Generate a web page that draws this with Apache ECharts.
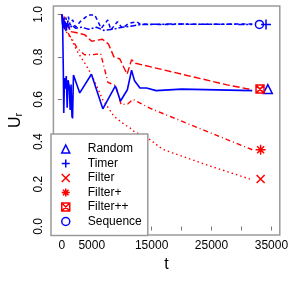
<!DOCTYPE html>
<html>
<head>
<meta charset="utf-8">
<script src="https://cdn.jsdelivr.net/npm/echarts@6/dist/echarts.min.js"></script>
<style>
html,body{margin:0;padding:0;background:#fff;}
#c{width:291px;height:283px;}
</style>
</head>
<body>
<div id="c"></div>
<script>
// ---- data ----
var randomT = [0, 120, 250, 330, 450, 600, 750, 900, 1050, 1250, 1400, 1550, 1700, 1800, 1950, 3000, 4950, 6850, 8950, 9800, 10950, 11650, 12150, 13050, 14150, 15750, 20000, 31800];
var randomU = [1.0, 0.99, 0.75, 0.535, 0.70, 0.65, 0.71, 0.56, 0.69, 0.66, 0.55, 0.67, 0.52, 0.51, 0.715, 0.63, 0.718, 0.555, 0.663, 0.592, 0.645, 0.737, 0.687, 0.653, 0.653, 0.641, 0.648, 0.641];

var timerT = [0, 150, 300, 500, 700, 900, 1100, 1400, 1800, 2300, 3070, 4430, 5500, 6590, 7670, 8200, 9290, 10100, 11170, 12520, 13060, 16000, 31800];
var timerU = [1.0, 0.95, 0.99, 0.93, 0.985, 0.94, 0.99, 0.95, 0.975, 0.94, 0.966, 0.998, 0.998, 0.935, 0.974, 0.927, 0.966, 0.935, 0.958, 0.966, 0.955, 0.953, 0.955];

var sequenceT = [0, 200, 400, 700, 1000, 1300, 1700, 2300, 3300, 4500, 5800, 7000, 8500, 10000, 11500, 13000, 18000, 31800];
var sequenceU = [1.0, 0.93, 0.98, 0.92, 0.97, 0.93, 0.95, 0.935, 0.94, 0.93, 0.94, 0.925, 0.93, 0.94, 0.945, 0.952, 0.955, 0.953];

var filterPPT = [0, 200, 450, 700, 1000, 1400, 2300, 3800, 5000, 6800, 7800, 8700, 9700, 10900, 11650, 12300, 14700, 27600, 31800];
var filterPPU = [1.0, 0.96, 0.99, 0.93, 0.95, 0.92, 0.915, 0.905, 0.874, 0.883, 0.86, 0.80, 0.79, 0.718, 0.787, 0.77, 0.754, 0.668, 0.645];

var filterPT = [0, 200, 500, 900, 1300, 1800, 2600, 3800, 5000, 6500, 7700, 9000, 9900, 11000, 11900, 14700, 27600, 31800];
var filterPU = [1.0, 0.95, 0.97, 0.92, 0.90, 0.88, 0.84, 0.81, 0.81, 0.815, 0.68, 0.665, 0.575, 0.578, 0.60, 0.558, 0.41, 0.362];

var filterT = [0, 200, 500, 900, 1500, 2500, 3500, 4400, 5400, 6800, 8700, 10500, 11400, 12200, 14000, 16800, 18500, 24900, 31400];
var filterU = [1.0, 0.96, 0.94, 0.91, 0.89, 0.83, 0.785, 0.745, 0.69, 0.60, 0.52, 0.48, 0.465, 0.445, 0.425, 0.365, 0.347, 0.284, 0.224];

// end markers
var markerNames = ['Random', 'Timer', 'Filter', 'Filter+', 'Filter++', 'Sequence'];
var markerT = [34400, 34100, 33200, 33200, 33100, 33000];
var markerU = [0.648, 0.953, 0.224, 0.362, 0.648, 0.953];

var xTickValues = [0, 5000, 10000, 15000, 20000, 25000, 30000, 35000];
var xLabelValues = [0, 5000, 15000, 25000, 35000];
var yTickValues = [0, 0.2, 0.4, 0.6, 0.8, 1.0];

// ---- styling ----
var BLUE = '#0000ff', RED = '#ff0000';
var SYM = {
  'Random': 'triangle',
  'Timer': 'path://M5 0L5 10M0 5L10 5',
  'Filter': 'path://M0 0L10 10M10 0L0 10',
  'Filter+': 'path://M5 0L5 10M0 5L10 5M1.5 1.5L8.5 8.5M8.5 1.5L1.5 8.5',
  'Filter++': 'path://M0 0L10 0L10 10L0 10ZM0 0L10 10M10 0L0 10',
  'Sequence': 'circle'
};
var COL = {'Random': BLUE, 'Timer': BLUE, 'Filter': RED, 'Filter+': RED, 'Filter++': RED, 'Sequence': BLUE};
var SIZE = {'Random': 9, 'Timer': 10, 'Filter': 8, 'Filter+': 10, 'Filter++': 8, 'Sequence': 8};
var LSIZE = {'Random': 8, 'Timer': 9, 'Filter': 7, 'Filter+': 8, 'Filter++': 7, 'Sequence': 7};

function zip(a, b) { return a.map(function (v, i) { return [v, b[i]]; }); }

function lineSeries(name, T, U, color, dash, width) {
  return {
    name: name, type: 'line', data: zip(T, U), showSymbol: false, symbol: 'none',
    animation: false, silent: true, z: 2,
    lineStyle: { color: color, width: width, type: dash }
  };
}

var series = [
  lineSeries('Filter', filterT, filterU, RED, [1.5, 3], 1.4),
  lineSeries('Filter+', filterPT, filterPU, RED, [1, 3, 5, 3], 1.4),
  lineSeries('Filter++', filterPPT, filterPPU, RED, [7, 3], 1.4),
  lineSeries('Sequence', sequenceT, sequenceU, BLUE, [2, 2, 6, 2], 1.5),
  lineSeries('Timer', timerT, timerU, BLUE, [4, 3], 1.5),
  lineSeries('Random', randomT, randomU, BLUE, 'solid', 1.6)
];

markerNames.forEach(function (n, i) {
  series.push({
    name: n, type: 'scatter', animation: false, silent: true, z: 5,
    symbol: SYM[n], symbolSize: SIZE[n],
    data: [[markerT[i], markerU[i]]],
    itemStyle: { color: 'transparent', borderColor: COL[n], borderWidth: 1.5, opacity: 1 }
  });
});

var legendData = markerNames.map(function (n) {
  return {
    name: n, icon: SYM[n],
    itemStyle: { color: 'transparent', borderColor: COL[n], borderWidth: 1.5 }
  };
});

var chart = echarts.init(document.getElementById('c'), null, { renderer: 'canvas' });
chart.setOption({
  backgroundColor: '#ffffff',
  animation: false,
  textStyle: { fontFamily: 'Liberation Sans' },
  grid: { left: 51, top: 6, right: 8, bottom: 48, show: true, borderColor: '#9a9a9a', borderWidth: 1.5, backgroundColor: 'transparent' },
  legend: {
    orient: 'vertical', left: 51, top: 134,
    padding: [8, 6, 7, 10],
    itemWidth: 8, itemHeight: 8, itemGap: 0.5,
    backgroundColor: '#ffffff', borderColor: '#9a9a9a', borderWidth: 1.5, borderRadius: 0,
    selectedMode: false,
    textStyle: { fontSize: 12, color: '#000', fontFamily: 'Liberation Sans', lineHeight: 14, padding: [0, 0, 0, 13] },
    data: legendData,
    z: 10
  },
  xAxis: {
    type: 'value', min: -1400, max: 36400,
    name: 't', nameLocation: 'middle', nameGap: 14,
    nameTextStyle: { fontSize: 16, color: '#000', fontFamily: 'Liberation Sans' },
    splitLine: { show: false },
    axisLine: { show: false },
    axisTick: { show: true, length: 4, inside: false, lineStyle: { color: '#777', width: 1 }, customValues: xTickValues },
    axisLabel: { customValues: xLabelValues, margin: 5, fontSize: 12, color: '#000', fontFamily: 'Liberation Sans',
      formatter: function (v) { return String(v); } }
  },
  yAxis: {
    type: 'value', min: -0.04, max: 1.04,
    name: '{a|U}{b|r}', nameLocation: 'middle', nameGap: 28, nameRotate: 90,
    nameTextStyle: {
      color: '#000', fontFamily: 'Liberation Sans',
      rich: {
        a: { fontSize: 16, color: '#000', fontFamily: 'Liberation Sans' },
        b: { fontSize: 11, color: '#000', fontFamily: 'Liberation Sans', verticalAlign: 'bottom', padding: [6, 0, 0, 0] }
      }
    },
    splitLine: { show: false },
    axisLine: { show: false },
    axisTick: { show: true, length: 4, inside: false, lineStyle: { color: '#777', width: 1 }, customValues: yTickValues },
    axisLabel: { customValues: yTickValues, rotate: 90, margin: 9, fontSize: 12, color: '#000', fontFamily: 'Liberation Sans',
      formatter: function (v) { return v.toFixed(1); } }
  },
  series: series
});
</script>
</body>
</html>
